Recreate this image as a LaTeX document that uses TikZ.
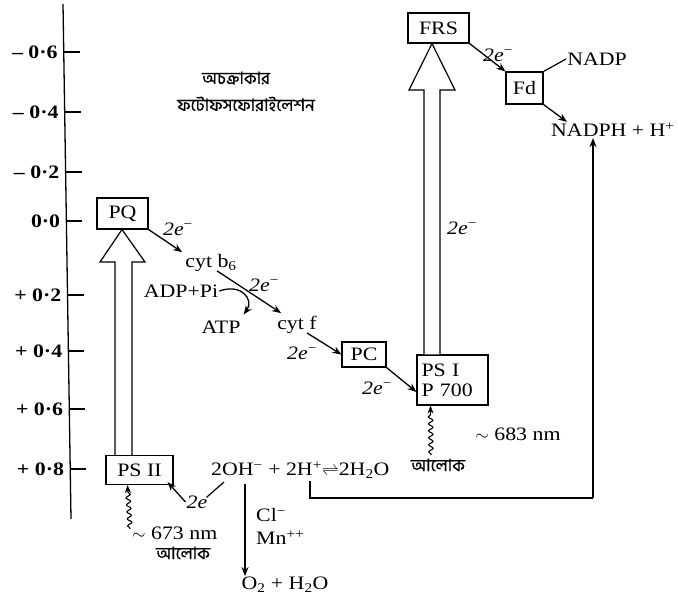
\documentclass[tikz,border=0pt]{standalone}
\usepackage{fontspec}
\setmainfont[FakeStretch=1.15]{Liberation Serif}
\newfontfamily\bnfont[Script=Bengali, FakeBold=0.6]{Hind Siliguri}
\usetikzlibrary{decorations.pathmorphing,arrows.meta,calc}
\newcommand\twoel{{\itshape 2e}\textsuperscript{−}}
\begin{document}
\begin{tikzpicture}[x=1pt,y=-1pt,
  every node/.style={font=\fontsize{19}{21}\selectfont, inner sep=1pt},
  box/.style={draw, line width=1.1pt, inner sep=0pt},
  arr/.style={line width=1.3pt, -{Stealth[length=9pt,width=7pt]}},
  ln/.style={line width=1.2pt},
  bn/.style={font=\bnfont\fontsize{17}{19}\selectfont},
  wavy/.style={line width=1.1pt, decorate, decoration={snake, amplitude=2.2pt, segment length=7pt, post length=7pt, pre length=1pt}},
  axlab/.style={font=\fontsize{19}{21}\selectfont\bfseries, anchor=east},
  dbl/.style={draw, line width=1.2pt, fill=white, line join=miter}
]
\useasboundingbox (0,0) rectangle (678,601);
% axis
\draw[line width=1.3pt] (63,4) -- (71,519);
\foreach \y/\t in {52/– 0·6, 112/– 0·4, 172/– 0·2, 221/0·0, 295/+ 0·2, 351/+ 0·4, 409/+ 0·6, 469/+ 0·8}{
  \pgfmathsetmacro\ax{63+0.01553*(\y-4)}
  \draw[line width=1.2pt] (\ax,\y) -- ++(16,0);
  \node[axlab] at (\ax-5,\y) {\t};
}
% title
\node[bn] (t1) at (236,78) {অচক্রাকার};
\node[bn] (t2) at (246,104) {ফটোফসফোরাইলেশন};
% boxes
\node[box, minimum width=51pt, minimum height=31pt] (PQ) at (122.5,213.5) {PQ};
\node[box, minimum width=67pt, minimum height=29pt] (PSII) at (139.5,470) {PS II};
\node[box, minimum width=44pt, minimum height=25pt] (PC) at (364,354.5) {PC};
\node[box, minimum width=71pt, minimum height=50pt, align=left, text width=62pt, inner sep=3pt, font=\fontsize{19}{20}\selectfont] (PSI) at (452.5,380) {PS I\\P 700};
\node[box, minimum width=61pt, minimum height=30pt] (FRS) at (438.5,28) {FRS};
\node[box, minimum width=37pt, minimum height=32pt] (Fd) at (524.5,88) {Fd};
% texts
\node (cytb) at (211,263) {cyt b\textsubscript{6}};
\node (adp) at (181,291) {ADP+Pi};
\node (atp) at (221,327) {ATP};
\node (cytf) at (297,325) {cyt f};
\node[anchor=west] (eq) at (210,470) {2OH\textsuperscript{−} + 2H\textsuperscript{+}$\rightleftharpoons$2H\textsubscript{2}O};
\node (e0) at (197,502) {\itshape 2e};
\node[anchor=west] (cl) at (255,515) {Cl\textsuperscript{−}};
\node[anchor=west] (mn) at (255,538) {Mn\textsuperscript{++}};
\node (o2) at (285,585) {O\textsubscript{2} + H\textsubscript{2}O};
\node[anchor=west] (nm673) at (131,533) {$\sim$ 673 nm};
\node[bn] (alo1) at (183,553) {আলোক};
\node[bn] (alo2) at (438,465) {আলোক};
\node (nm683) at (518,434) {$\sim$ 683 nm};
\node (nadp) at (597,59) {NADP};
\node[anchor=west] (nadph) at (550,130) {NADPH + H\textsuperscript{+}};
% electron labels
\node (l1) at (178,229) {\twoel};
\node (l2) at (264,285) {\twoel};
\node (l3) at (302,353) {\twoel};
\node (l4) at (377,388) {\twoel};
\node (l5) at (462,228) {\twoel};
\node (l6) at (498,55) {\twoel};
% connectors
\draw[arr] (PQ.south east) -- ($(cytb.north west)+(-2,-1)$);
\draw[arr] ($(cytb.south)+(6,-2)$) -- ($(cytf.north west)+(5,-2)$);
\draw[arr] (adp.east) .. controls (242,283) and (254,300) .. ($(atp.north east)+(2,-5)$);
\draw[arr] ($(cytf.south)+(10,-2)$) -- (PC.west);
\draw[arr] (PC.south east) -- ($(PSI.west)+(0,12)$);
\draw[arr] (FRS.south east) -- (Fd.north west);
\draw[ln] (Fd.north east) -- (nadp.west);
\draw[arr] (Fd.south east) -- ($(nadph.north west)+(17,0)$);
\coordinate (Hpos) at (310,481);
\coordinate (Opos) at (224,482);
\coordinate (OHdown) at (245,484);
\coordinate (corner) at (593,498);
\draw[ln] (Hpos) -- (Hpos |- corner) -- (corner);
\draw[arr] (corner) -- (nadph.south -| corner);
\draw[ln] (Opos) -- ($(e0.north east)+(-2,3)$);
\draw[arr] (e0.west) -- ($(PSII.south east)+(-6,-3)$);
\draw[arr] (OHdown) -- (o2.north -| OHdown);
% light
\draw[wavy, -{Stealth[length=8pt,width=6pt]}] (130,529) -- ($(PSII.south)+(-12,0)$);
\draw[wavy, -{Stealth[length=8pt,width=6pt]}] (431,455) -- ($(PSI.south)+(-22,0)$);
% big arrows
\draw[dbl] (PSI.north -| 424,0) -- (424,90) -- (409,90) -- (FRS.south -| 432,0) -- (455,90) -- (440,90) -- (PSI.north -| 440,0);
\draw[dbl] (PSII.north -| 115,0) -- (115,262) -- (100,262) -- (PQ.south -| 122,0) -- (145,262) -- (132,262) -- (PSII.north -| 132,0);
\end{tikzpicture}
\end{document}
